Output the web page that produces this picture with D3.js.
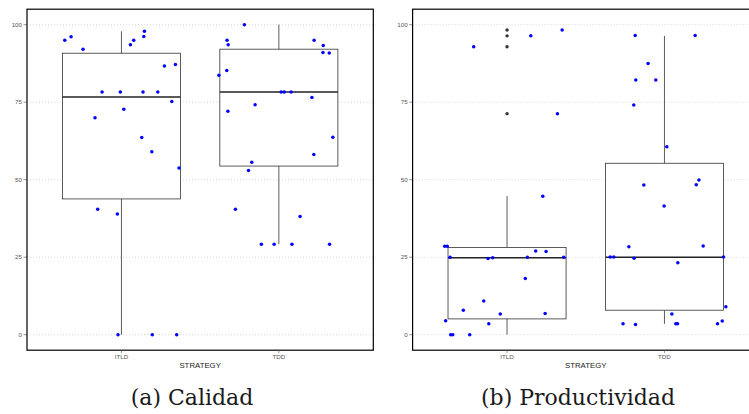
<!DOCTYPE html>
<html>
<head>
<meta charset="utf-8">
<script src="https://cdn.jsdelivr.net/npm/d3@7"></script>
<style>
  body { margin: 0; background: #fff; }
  svg { display: block; }
</style>
</head>
<body>
<svg id="chart" width="749" height="414"></svg>
<script>
// categories and ticks
const strategies = ["ITLD", "TDD"];
const yTicks = [0, 25, 50, 75, 100];

// (a) Calidad: points, jitter = horizontal offset in category units
const calidadITLD = [95.0, 96.1, 92.1, 78.3, 78.3, 78.3, 78.3, 70.0, 72.7, 93.5, 95.0, 96.2,
  97.9, 86.7, 87.2, 75.2, 63.6, 59.0, 53.8, 40.5, 38.9, 0, 0, 0];
const calidadITLDJitter = [-0.36, -0.32, -0.244, -0.123, -0.007, 0.137, 0.231, -0.168, 0.015, 0.057, 0.078, 0.142,
  0.146, 0.273, 0.343, 0.32, 0.129, 0.193, 0.366, -0.151, -0.026, -0.022, 0.196, 0.351];
const calidadTDD = [100, 95.0, 93.5, 83.7, 85.2, 72.1, 74.2, 78.3, 78.3, 78.3, 76.5, 95.0, 93.3,
  91.0, 90.9, 63.7, 58.1, 55.6, 53.0, 40.5, 29.2, 29.2, 29.2, 38.1, 29.2];
const calidadTDDJitter = [-0.219, -0.329, -0.322, -0.381, -0.331, -0.324, -0.151, 0.015, 0.034, 0.078, 0.21, 0.224, 0.282,
  0.28, 0.32, 0.343, 0.222, -0.172, -0.193, -0.276, -0.111, -0.03, 0.083, 0.135, 0.322];

// box stats per strategy
const calidadLower = [0, 29.2];
const calidadQ1 = [43.8, 54.4];
const calidadMedian = [76.7, 78.3];
const calidadQ3 = [90.8, 92.1];
const calidadUpper = [97.9, 100];
const calidadOutliers = [[], []];

// (b) Productividad
const prodITLD = [28.5, 28.5, 25.0, 24.6, 24.8, 25.0, 25.0, 27.0, 26.8, 44.7, 18.1, 10.9,
  7.9, 6.7, 6.8, 4.5, 3.5, 0, 0, 0, 92.9, 96.4, 98.3, 71.3];
const prodITLDJitter = [-0.396, -0.38, -0.362, -0.121, -0.091, 0.129, 0.36, 0.182, 0.248, 0.227, 0.116, -0.148,
  -0.278, -0.043, 0.242, -0.39, -0.116, -0.358, -0.345, -0.237, -0.212, 0.151, 0.35, 0.32];
const prodTDD = [48.3, 48.4, 49.9, 41.5, 28.4, 28.6, 25.1, 25.1, 24.7, 25.1, 23.2, 9.0,
  6.7, 4.4, 3.5, 3.3, 3.5, 3.5, 3.5, 96.5, 96.5, 87.5, 82.2, 82.2, 74.1, 60.6];
const prodTDDJitter = [-0.131, 0.202, 0.219, -0.002, -0.226, 0.246, -0.345, -0.322, -0.193, 0.375, 0.085, 0.39,
  0.047, 0.367, -0.263, -0.184, 0.072, 0.083, 0.337, -0.186, 0.195, -0.104, -0.182, -0.055, -0.195, 0.015];

const prodLower = [0, 3.5];
const prodQ1 = [5.1, 7.9];
const prodMedian = [24.8, 25.0];
const prodQ3 = [28.1, 55.3];
const prodUpper = [44.7, 96.4];
const prodOutliers = [[98.3, 96.4, 92.9, 71.3], []];

const svg = d3.select("#chart");
const sans = "'Liberation Sans', Arial, sans-serif";

function drawPanel(opts) {
    let x = d3.scalePoint()
        .domain(strategies)
        .range([opts.left, opts.right])
        .padding(0.6);
    let y = d3.scaleLinear()
        .domain([-5, 105])
        .range([350.2, 9.2]);
    let step = x.step();
    let boxW = step * 0.75;

    let g = svg.append("g");

    // dotted horizontal grid
    g.selectAll(".grid")
        .data(yTicks)
        .join("line")
        .attr("x1", opts.left).attr("x2", opts.right)
        .attr("y1", d => y(d)).attr("y2", d => y(d))
        .attr("stroke", "#cfcfcf")
        .attr("stroke-width", 0.8)
        .attr("stroke-dasharray", "1,2");

    // y ticks + labels
    g.selectAll(".ytick")
        .data(yTicks)
        .join("line")
        .attr("x1", opts.left - 3.5).attr("x2", opts.left)
        .attr("y1", d => y(d)).attr("y2", d => y(d))
        .attr("stroke", "#555")
        .attr("stroke-width", 0.6);
    g.selectAll(".ylab")
        .data(yTicks)
        .join("text")
        .attr("x", opts.left - 5)
        .attr("y", d => y(d))
        .attr("dy", "0.35em")
        .attr("text-anchor", "end")
        .attr("font-family", sans)
        .attr("font-size", 6.2)
        .attr("fill", "#555")
        .text(d => d);

    // boxes
    let boxes = strategies.map((s, i) => ({
        s: s, lower: opts.lower[i], q1: opts.q1[i], med: opts.median[i],
        q3: opts.q3[i], upper: opts.upper[i], out: opts.outliers[i]
    }));

    let bg = g.selectAll(".box")
        .data(boxes)
        .join("g");

    bg.append("line")
        .attr("x1", d => x(d.s)).attr("x2", d => x(d.s))
        .attr("y1", d => y(d.q3)).attr("y2", d => y(d.upper))
        .attr("stroke", "#333").attr("stroke-width", 0.8);
    bg.append("line")
        .attr("x1", d => x(d.s)).attr("x2", d => x(d.s))
        .attr("y1", d => y(d.q1)).attr("y2", d => y(d.lower))
        .attr("stroke", "#333").attr("stroke-width", 0.8);
    bg.append("rect")
        .attr("x", d => x(d.s) - boxW / 2)
        .attr("width", boxW)
        .attr("y", d => y(d.q3))
        .attr("height", d => y(d.q1) - y(d.q3))
        .attr("fill", "#fff")
        .attr("stroke", "#333")
        .attr("stroke-width", 0.8);
    bg.append("line")
        .attr("x1", d => x(d.s) - boxW / 2).attr("x2", d => x(d.s) + boxW / 2)
        .attr("y1", d => y(d.med)).attr("y2", d => y(d.med))
        .attr("stroke", "#222").attr("stroke-width", 1.5);
    bg.selectAll(".out")
        .data(d => d.out.map(v => ({ s: d.s, v: v })))
        .join("circle")
        .attr("cx", d => x(d.s))
        .attr("cy", d => y(d.v))
        .attr("r", 1.7)
        .attr("fill", "#333");

    // jittered points
    let pts = [];
    opts.points.forEach((vals, i) => {
        vals.forEach((v, j) => pts.push({ s: strategies[i], v: v, j: opts.jitter[i][j] }));
    });
    g.selectAll(".pt")
        .data(pts)
        .join("circle")
        .attr("cx", d => x(d.s) + d.j * step)
        .attr("cy", d => y(d.v))
        .attr("r", 1.75)
        .attr("fill", "#0000ff");

    // frame
    g.append("rect")
        .attr("x", opts.left).attr("y", y(105))
        .attr("width", opts.right - opts.left)
        .attr("height", y(-5) - y(105))
        .attr("fill", "none")
        .attr("stroke", "#000")
        .attr("stroke-width", 1.2);

    // x ticks + labels
    g.selectAll(".xtick")
        .data(strategies)
        .join("line")
        .attr("x1", d => x(d)).attr("x2", d => x(d))
        .attr("y1", y(-5)).attr("y2", y(-5) + 3)
        .attr("stroke", "#555")
        .attr("stroke-width", 0.6);
    g.selectAll(".xlab")
        .data(strategies)
        .join("text")
        .attr("x", d => x(d))
        .attr("y", y(-5) + 8.8)
        .attr("text-anchor", "middle")
        .attr("font-family", sans)
        .attr("font-size", 6.2)
        .attr("fill", "#555")
        .text(d => d);

    g.append("text")
        .attr("x", (opts.left + opts.right) / 2)
        .attr("y", 367.5)
        .attr("text-anchor", "middle")
        .attr("font-family", sans)
        .attr("font-size", 7.8)
        .attr("fill", "#222")
        .text("STRATEGY");

    // subfigure caption
    svg.append("text")
        .attr("x", opts.captionX)
        .attr("y", 405)
        .attr("text-anchor", "middle")
        .attr("font-family", "'DejaVu Serif', 'Liberation Serif', serif")
        .attr("font-size", 22)
        .attr("fill", "#1a1a1a")
        .text(opts.caption);
}

drawPanel({
    left: 27, right: 373.3,
    points: [calidadITLD, calidadTDD],
    jitter: [calidadITLDJitter, calidadTDDJitter],
    lower: calidadLower, q1: calidadQ1, median: calidadMedian, q3: calidadQ3, upper: calidadUpper,
    outliers: calidadOutliers,
    caption: "(a) Calidad", captionX: 192
});

drawPanel({
    left: 412.6, right: 758.9,
    points: [prodITLD, prodTDD],
    jitter: [prodITLDJitter, prodTDDJitter],
    lower: prodLower, q1: prodQ1, median: prodMedian, q3: prodQ3, upper: prodUpper,
    outliers: prodOutliers,
    caption: "(b) Productividad", captionX: 578
});
</script>
</body>
</html>
